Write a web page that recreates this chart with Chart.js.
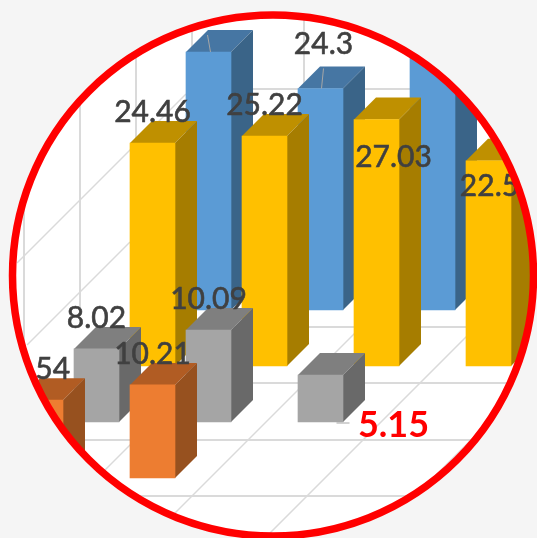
<!DOCTYPE html>
<html>
<head>
<meta charset="utf-8">
<title>3D bars</title>
<script src="https://cdn.jsdelivr.net/npm/chart.js@4"></script>
<style>
  html, body { margin: 0; padding: 0; background: #f5f5f5; overflow: hidden; }
  canvas { display: block; }
</style>
</head>
<body>
<canvas id="chart" width="537" height="538"></canvas>
<script>
// valores (null = sem barra)
const categories = [0, 1, 2, 3];
const orangeValues = [8.54, 10.21, null, null];
const grayValues   = [8.02, 10.09, 5.15, null];
const yellowValues = [24.46, 25.22, 27.03, 22.5];
const blueValues   = [28.3, 24.3, 31, null];

// projecao obliqua: cada fila recua meia categoria em x e 56px em y
const PX_CAT = 112, PX_UNIT = 9.117, ROW_PX = 56, DEPTH = 22, BAR_W = 45;
const X0 = 40.5, Y0 = 366, W = 537, H = 538;
const rowDepth = u => u * ROW_PX / PX_UNIT;

function series(label, values, row, front, top, side) {
  const data = [];
  values.forEach((v, i) => {
    if (v === null) return;
    data.push({ x: categories[i] + (row + 2) / 2, y: [rowDepth(row), rowDepth(row) + v], v });
  });
  return {
    label, row, sideColor: side, topColor: top,
    backgroundColor: front, borderColor: front, borderWidth: 0,
    barThickness: BAR_W, grouped: false, data
  };
}

// primeiro dataset fica por cima
const datasets = [
  series("Orange", orangeValues, -2, "#ED7D31", "#B15C23", "#97511F"),
  series("Gray",   grayValues,   -1, "#A5A5A5", "#7F7F7F", "#696969"),
  series("Yellow", yellowValues,  0, "#FFC000", "#BF9000", "#A67D00"),
  series("Blue",   blueValues,    1, "#5B9BD5", "#4676A3", "#3A6488")
];

// rotulos: deslocamento em px a partir do centro da barra / topo
const labelOffset = {
  "2,2": [17, 38],
  "2,3": [1, 25],
  "3,0": [0, -60],
  "3,1": [3, -44],
  "3,2": [0, -60],
  "1,2": [73, 50]
};

const CX = 273, CY = 275.5, R = 260.5;

// grade das paredes e do chao
const wallVerticals = [[24, 20, 347], [80, 20, 308], [136, 20, 200], [192, 20, 100], [304, 10, 90]];
const wallHorizontals = [[186, 412, 89]];
const floorHorizontals = [[175, 540, 327], [100, 540, 383], [60, 540, 440], [100, 540, 496]];
const diagonals = [[17, 186, 280], [27, 130, 372], [95, 355, 575], [165, 360, 688], [265, 470, 803], [410, 525, 911]];

// a barra flutuante troca y/base quando os valores sao negativos
function box(el) {
  const { x, y, base, width } = el.getProps(["x", "y", "base", "width"], true);
  return { x, width, top: Math.min(y, base), bottom: Math.max(y, base) };
}

const bars3d = {
  id: "bars3d",
  beforeDraw(chart) {
    const c = chart.ctx;
    c.save();
    c.fillStyle = "#f5f5f5";
    c.fillRect(0, 0, W, H);
    c.beginPath();
    c.arc(CX, CY, R, 0, Math.PI * 2);
    c.clip();
    c.fillStyle = "#fff";
    c.fillRect(0, 0, W, H);
    const xs = chart.scales.x, ys = chart.scales.y;
    const px = v => xs.getPixelForValue((v - X0) / PX_CAT);
    const py = v => ys.getPixelForValue((Y0 - v) / PX_UNIT);
    c.strokeStyle = "#dadada";
    c.lineWidth = 2;
    const line = (x1, y1, x2, y2) => { c.beginPath(); c.moveTo(px(x1), py(y1)); c.lineTo(px(x2), py(y2)); c.stroke(); };
    wallVerticals.forEach(([x, a, b]) => line(x, a, x, b));
    wallHorizontals.concat(floorHorizontals).forEach(([a, b, y]) => line(a, y, b, y));
    c.lineWidth = 1.5;
    diagonals.forEach(([a, b, s]) => line(a, s - a, b, s - b));
  },
  beforeDatasetDraw(chart, args) {
    const c = chart.ctx, ds = chart.data.datasets[args.index];
    args.meta.data.forEach(el => {
      const { x, width, top, bottom } = box(el);
      const l = x - width / 2, r = x + width / 2;
      c.fillStyle = ds.topColor;
      c.beginPath();
      c.moveTo(l, top); c.lineTo(l + DEPTH, top - DEPTH); c.lineTo(r + DEPTH, top - DEPTH); c.lineTo(r, top);
      c.closePath(); c.fill();
      c.fillStyle = ds.sideColor;
      c.beginPath();
      c.moveTo(r, top); c.lineTo(r + DEPTH, top - DEPTH); c.lineTo(r + DEPTH, bottom - DEPTH); c.lineTo(r, bottom);
      c.closePath(); c.fill();
    });
  },
  afterDraw(chart) {
    const c = chart.ctx;
    const el = (d, i) => box(chart.getDatasetMeta(d).data[i]);
    // linhas de chamada
    c.strokeStyle = "#a6a6a6";
    c.lineWidth = 1;
    [[3, 0, -1, -17, 1], [3, 1, 3, -20, 0]].forEach(([d, i, dx, dy, ex]) => {
      const b = el(d, i);
      c.beginPath();
      c.moveTo(b.x + ex + 1, b.top);
      c.lineTo(b.x + dx, b.top + dy);
      c.stroke();
    });
    const g = el(1, 2);
    c.beginPath();
    c.moveTo(g.x + 16, g.bottom + 1);
    c.lineTo(g.x + 29, g.bottom + 1);
    c.stroke();

    c.textAlign = "center";
    c.textBaseline = "middle";
    c.lineWidth = 0.6;
    chart.data.datasets.forEach((ds, d) => {
      ds.data.forEach((p, i) => {
        const b = el(d, i);
        const off = labelOffset[d + "," + i] || [0, -31];
        const red = d === 1 && i === 2;
        c.font = (red ? "bold 36px" : "30px") + " Lato, sans-serif";
        c.fillStyle = c.strokeStyle = red ? "#ff0000" : "#404040";
        c.fillText(String(p.v), b.x + off[0], b.top + off[1]);
        if (!red) c.strokeText(String(p.v), b.x + off[0], b.top + off[1]);
      });
    });
    c.restore();
    c.strokeStyle = "#ff0000";
    c.lineWidth = 7.5;
    c.beginPath();
    c.arc(CX, CY, R, 0, Math.PI * 2);
    c.stroke();
  }
};

new Chart(document.getElementById("chart"), {
  type: "bar",
  data: { datasets },
  options: {
    responsive: false,
    animation: false,
    layout: { padding: 0 },
    plugins: { legend: { display: false }, tooltip: { enabled: false } },
    scales: {
      x: { type: "linear", display: false, min: -X0 / PX_CAT, max: (W - X0) / PX_CAT, offset: false },
      y: { type: "linear", display: false, min: (Y0 - H) / PX_UNIT, max: Y0 / PX_UNIT }
    }
  },
  plugins: [bars3d]
});
</script>
</body>
</html>
